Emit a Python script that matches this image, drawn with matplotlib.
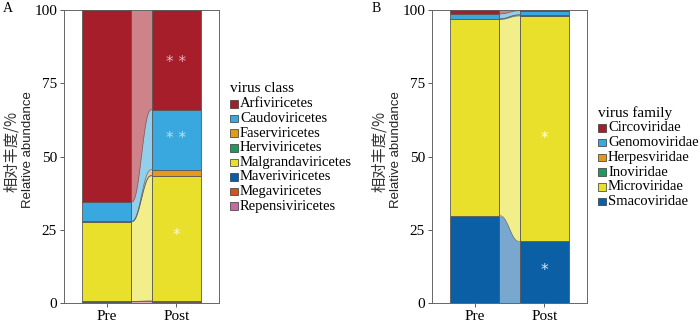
import numpy as np
import matplotlib
matplotlib.use("Agg")
import matplotlib.pyplot as plt
from matplotlib.patches import Rectangle

# ---------------- data ----------------
groups = ["Pre", "Post"]

class_names = ["Arfiviricetes", "Caudoviricetes", "Faserviricetes", "Herviviricetes",
               "Malgrandaviricetes", "Maveriviricetes", "Megaviricetes", "Repensiviricetes"]
class_pre = [65.5, 6.6, 0.1, 0.05, 27.2, 0.05, 0.1, 0.4]
class_post = [34.0, 20.5, 2.0, 0.1, 42.7, 0.1, 0.1, 0.5]
class_colors = ["#A61E2A", "#38A8DE", "#E39A1C", "#1F9A5C",
                "#E8E02A", "#0B5CA8", "#D2531C", "#C66BA0"]

family_names = ["Circoviridae", "Genomoviridae", "Herpesviridae", "Inoviridae",
                "Microviridae", "Smacoviridae"]
family_pre = [1.3, 1.7, 0.05, 0.15, 67.0, 29.8]
family_post = [0.25, 1.4, 0.05, 0.3, 77.0, 21.0]
family_colors = ["#A61E2A", "#38A8DE", "#E39A1C", "#1F9A5C", "#E8E02A", "#0B5FA5"]

yticks = [0, 25, 50, 75, 100]

# significance marks on Post bar: (y, text, color)
marks_A = [(82, "* *", "#E8B4C0"), (56, "* *", "#BFE0F2"), (23, "*", "#FFFBD0")]
marks_B = [(56, "*", "#FFFFF0"), (11, "*", "#D8ECFA")]

# ---------------- style ----------------
W, H = 700, 326
SERIF = "Liberation Serif"
fig = plt.figure(figsize=(7, 3.26), dpi=100)


def fx(px):
    return px / W


def fy(py):
    return 1 - py / H


edge = "#5a5a5a"
bw = 0.7


def panel(left_px, names, pre, post, colors, marks):
    ax = fig.add_axes([fx(left_px), fy(303), fx(155), (303 - 10) / H])
    pre = np.array(pre)[::-1]
    post = np.array(post)[::-1]
    cols = colors[::-1]
    pb = np.concatenate([[0], np.cumsum(pre)[:-1]])
    qb = np.concatenate([[0], np.cumsum(post)[:-1]])
    x0, x1 = 1 + bw / 2, 2 - bw / 2
    xs = np.linspace(x0, x1, 100)
    t = (xs - x0) / (x1 - x0)
    s = t * t * t * (t * (6 * t - 15) + 10)
    for i in range(len(pre)):
        ax.bar(1, pre[i], bottom=pb[i], width=bw, color=cols[i], edgecolor=edge, linewidth=0.6, zorder=3)
        ax.bar(2, post[i], bottom=qb[i], width=bw, color=cols[i], edgecolor=edge, linewidth=0.6, zorder=3)
        lo = pb[i] + (qb[i] - pb[i]) * s
        hi = pb[i] + pre[i] + (qb[i] + post[i] - pb[i] - pre[i]) * s
        ax.fill_between(xs, lo, hi, color=cols[i], alpha=0.55, linewidth=0, zorder=2)
        ax.plot(xs, hi, color=edge, lw=0.5, alpha=0.8, zorder=2.5)
    ax.plot([x0, x0], [0, 100], color=edge, lw=0.6, zorder=2.6)
    ax.plot([x1, x1], [0, 100], color=edge, lw=0.6, zorder=2.6)
    for y, txt, c in marks:
        ax.text(2, y, txt, ha="center", va="center", color=c, fontsize=11,
                family="DejaVu Sans", zorder=5)
    ax.set_xlim(0.39, 2.61)
    ax.set_ylim(0, 100)
    ax.set_xticks([1, 2])
    ax.set_xticklabels(groups, family=SERIF, fontsize=11)
    ax.set_yticks(yticks)
    ax.set_yticklabels([str(v) for v in yticks], family=SERIF, fontsize=11)
    ax.tick_params(length=3, width=0.6, color="#444444", pad=2)
    for sp in ax.spines.values():
        sp.set_color("#666666")
        sp.set_linewidth(0.7)
    return ax


def ylab(x_px):
    fig.text(fx(x_px), fy(151), "相对丰度/%", rotation=90, ha="center", va="center",
             family=["Noto Sans CJK SC", "DejaVu Sans"], fontsize=11, color="#333333")
    fig.text(fx(x_px + 16), fy(150), "Relative abundance", rotation=90, ha="center", va="center",
             family="Liberation Sans", fontsize=9.5, color="#222222")


def legend(x_px, title_y, first_y, step, title, names, colors):
    fig.text(fx(x_px), fy(title_y), title, ha="left", va="center", family=SERIF, fontsize=11)
    sq = 7.5
    for i, (n, c) in enumerate(zip(names, colors)):
        yc = first_y + i * step
        fig.patches.append(Rectangle((fx(x_px), fy(yc + sq / 2)), fx(sq), sq / H,
                                     transform=fig.transFigure, facecolor=c,
                                     edgecolor="#333333", linewidth=0.5))
        fig.text(fx(x_px + 10), fy(yc), n, ha="left", va="center", family=SERIF, fontsize=10.5)


panel(64, class_names, class_pre, class_post, class_colors, marks_A)
panel(432, family_names, family_pre, family_post, family_colors, marks_B)
ylab(12)
ylab(380)
legend(230, 88, 104, 14.6, "virus class", class_names, class_colors)
legend(598, 113, 128, 14.7, "virus family", family_names, family_colors)
fig.text(fx(8), fy(8), "A", ha="center", va="center", family=SERIF, fontsize=10)
fig.text(fx(376), fy(8), "B", ha="center", va="center", family=SERIF, fontsize=10)

fig.savefig("out.png", dpi=100)
